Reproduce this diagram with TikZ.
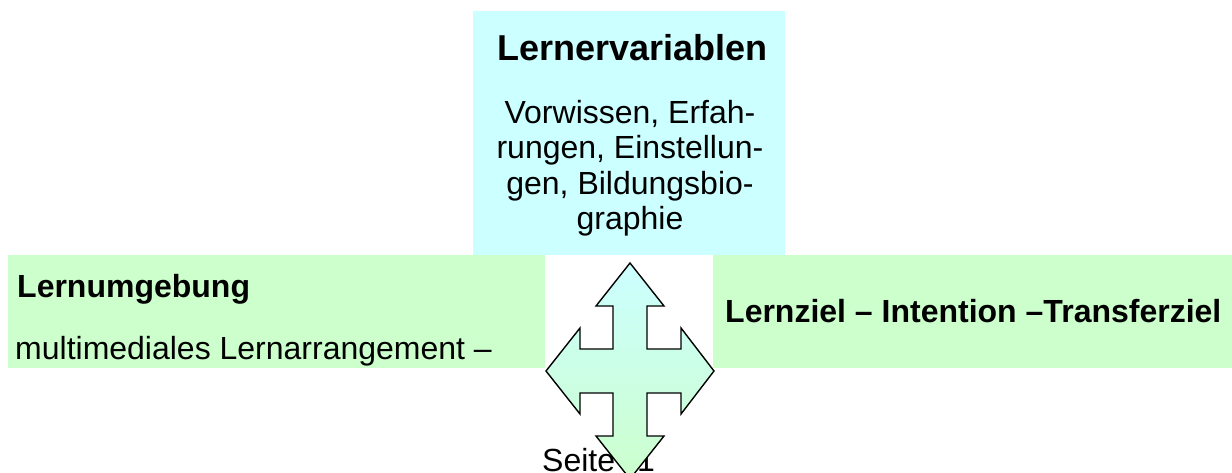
\documentclass[tikz,border=0pt]{standalone}
\usepackage{fontspec}
\setmainfont{Liberation Sans}
\definecolor{lblue}{HTML}{CCFFFF}
\definecolor{lgreen}{HTML}{CCFFCC}
\begin{document}
\begin{tikzpicture}[x=1pt,y=-1pt,
  txt/.style={inner sep=0pt, font=\fontsize{32}{35.5}\selectfont},
  btxt/.style={inner sep=0pt, font=\fontsize{32}{35.5}\selectfont\bfseries},
  ttl/.style={inner sep=0pt, font=\fontsize{36}{40}\selectfont\bfseries},
  cross/.style={draw=black, line width=1.4pt, line join=miter, top color=lblue, bottom color=lgreen}]
\useasboundingbox (0,0) rectangle (1232,472);
\fill[white] (0,0) rectangle (1232,472);
\fill[lblue] (473,11) rectangle (785,255);
\fill[lgreen] (8,255) rectangle (545,368);
\fill[lgreen] (713,255) rectangle (1232,368);
\node[ttl, anchor=base] (title) at (632.5,60) {Lernervariablen};
\node[txt, anchor=north, align=center] (body) at (630,100) {Vorwissen, Erfah-\\rungen, Einstellun-\\gen, Bildungsbio-\\graphie};
\node[btxt, anchor=base west] (lu) at (17,297) {Lernumgebung};
\node[txt, anchor=base west] (ml) at (15,359) {multimediales Lernarrangement –};
\node[btxt, anchor=base west] (lz) at (725,322) {Lernziel – Intention –Transferziel};
\node[txt, anchor=base west] (seite) at (542,471) {Seite\hspace{22pt}1};
\path[cross] (630,263) -- (664,306) -- (647,306) -- (647,349) -- (681,349) -- (681,328)
  -- (714,371) -- (681,414) -- (681,393) -- (647,393) -- (647,436) -- (664,436)
  -- (630,479) -- (596,436) -- (613,436) -- (613,393) -- (580,393) -- (580,414)
  -- (546,371) -- (580,328) -- (580,349) -- (613,349) -- (613,306) -- (596,306) -- cycle;
\end{tikzpicture}
\end{document}
